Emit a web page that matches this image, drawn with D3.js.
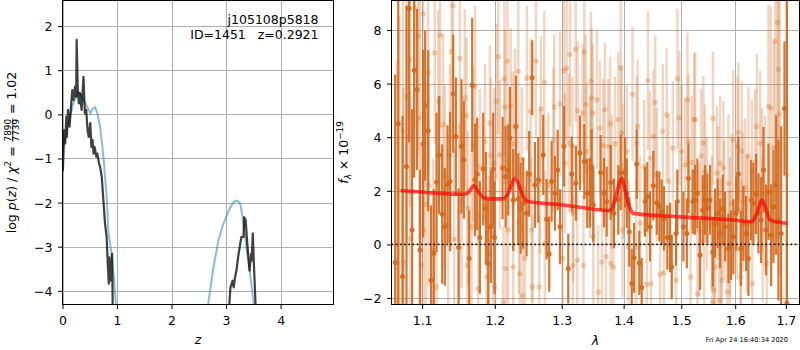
<!DOCTYPE html>
<html lang="en">
<head>
  <meta charset="UTF-8">
  <title>p(z) and spectrum</title>
  <script src="https://d3js.org/d3.v7.min.js"></script>
  <style>
    body { margin: 0; background: #fff; }
    svg text { font-family: "DejaVu Sans", sans-serif; fill: #000; }
    .tick line { stroke: #000; }
    .domain { display: none; }
  </style>
</head>
<body>
  <div id="container"></div>

  <script>
    // ---- left panel: log p(z) ----
    const zPriorA = [0, 0.08, 0.14, 0.2, 0.26, 0.29, 0.33, 0.385, 0.44, 0.48, 0.51, 0.55, 0.6, 0.64, 0.69, 0.75, 0.81, 0.84, 0.89, 0.94, 0.98, 1.0];
    const logpPriorA = [-0.81, -0.36, -0.05, 0.25, 0.44, 0.51, 0.45, 0.33, 0.2, 0.1, 0.02, 0.12, 0.16, 0.02, -0.28, -0.96, -1.87, -2.63, -3.08, -3.69, -4.3, -4.7];
    const zPriorB = [2.64, 2.68, 2.77, 2.86, 2.95, 3.05, 3.12, 3.17, 3.22, 3.26, 3.32, 3.38, 3.44, 3.50, 3.54];
    const logpPriorB = [-4.6, -4.22, -3.46, -2.86, -2.48, -2.18, -2.02, -1.96, -1.97, -2.02, -2.48, -3.08, -3.61, -4.22, -4.6];

    const zFitA = [0.0, 0.007, 0.02, 0.03, 0.05, 0.07, 0.08, 0.10, 0.13, 0.155, 0.18, 0.20, 0.23, 0.25, 0.26, 0.28, 0.30, 0.32, 0.35, 0.385, 0.41, 0.435, 0.46, 0.48, 0.51, 0.53, 0.55, 0.57, 0.59, 0.62, 0.64, 0.67, 0.69, 0.72, 0.75, 0.78, 0.81, 0.83, 0.85, 0.86, 0.89, 0.91, 0.92, 0.93];
    const logpFitA = [-0.5, -1.27, -0.81, -0.36, -0.66, -0.05, -0.51, 0.10, -0.28, 0.17, 0.55, 0.33, 0.63, 0.40, 1.69, 0.55, 0.25, 0.48, 0.10, 0.85, 0.02, 0.1, -0.36, -0.51, -0.2, -0.74, -0.58, -0.89, -0.74, -0.96, -0.89, -1.11, -1.19, -1.42, -1.95, -2.48, -2.78, -3.39, -3.84, -3.24, -3.77, -3.16, -4.3, -4.8];
    const zFitB = [3.05, 3.06, 3.08, 3.12, 3.14, 3.16, 3.19, 3.22, 3.25, 3.28, 3.30, 3.32, 3.33, 3.36, 3.38, 3.41, 3.43, 3.46, 3.47, 3.49, 3.51, 3.54, 3.55];
    const logpFitB = [-4.6, -4.3, -3.92, -3.77, -3.92, -3.73, -3.54, -3.24, -3.01, -2.78, -2.78, -2.78, -2.33, -2.4, -2.78, -3.24, -3.54, -3.16, -3.31, -2.7, -3.39, -4.3, -4.6];

    const zTicks = [0, 1, 2, 3, 4];
    const logpTicks = [-4, -3, -2, -1, 0, 1, 2];

    // ---- right panel: spectrum (flux x 1e-19) ----
    const lamG1 = [1.0651, 1.0690, 1.0745, 1.0796, 1.0830, 1.0869, 1.0895, 1.0934, 1.0970, 1.1013, 1.1040, 1.1080, 1.1119, 1.1155, 1.1191, 1.1226, 1.1267, 1.1303, 1.1339, 1.1375, 1.1416, 1.1453, 1.1490, 1.1531, 1.1563, 1.1637, 1.1679, 1.1717, 1.1749, 1.1787, 1.1834, 1.1872, 1.1905, 1.1943, 1.1976, 1.1995,
      1.2112, 1.2156, 1.2194, 1.2219, 1.2267, 1.2307, 1.2341, 1.2376, 1.2415, 1.2465, 1.2504, 1.2549, 1.2590, 1.2640, 1.2716, 1.2767, 1.2807, 1.2844, 1.2895, 1.2937, 1.2973, 1.3035, 1.3102, 1.3156, 1.3224, 1.3287, 1.3356, 1.3404, 1.3447, 1.3474, 1.3501,
      1.3620, 1.3675, 1.3719, 1.3785, 1.3839, 1.3911, 1.3951, 1.4023, 1.4052, 1.4095, 1.4136, 1.4175, 1.4221, 1.4265, 1.4306, 1.4363, 1.4403, 1.4449, 1.4507, 1.4566, 1.4612, 1.4653, 1.4694, 1.4752, 1.4800, 1.4830, 1.4907, 1.4930, 1.5038, 1.5100, 1.5129, 1.5208,
      1.5250, 1.5292, 1.5341, 1.5391, 1.5433, 1.5476, 1.5526, 1.5576, 1.5619, 1.5669, 1.5713, 1.5764, 1.5808, 1.5871, 1.5922, 1.5966, 1.6018, 1.6061, 1.6108, 1.6158, 1.6210, 1.6255, 1.6308, 1.6353, 1.6406, 1.6452, 1.6505, 1.6551, 1.6604, 1.6650, 1.6704, 1.6750, 1.6804, 1.6850, 1.6905, 1.6972, 1.7021];
    const fluxG1 = [-0.67, 4.5, -1.2, 2.91, 8.8, 0.54, 6.5, 5.78, -0.21, 3.76, 5.18, 4.24, -1.34, -0.34, 2.32, 3.34, 1.13, 0.66, 2.25, 2.35, 5.62, 4.03, -0.11, 3.66, 3.16, -0.52, 5.95, 2.41, 2.63, 0.26, 2.81, 1.35, -0.71, 0.66, 2.81, 0.26,
      2.85, 2.53, 2.78, 3.97, 1.66, 4.4, 1.70, 1.35, 1.54, 1.16, 2.63, 6.22, 2.22, 2.41, 3.34, 0.94, -0.36, 2.35, 1.91, 2.78, 0.66, 3.66, -0.9, 2.63, 2.28, 3.41, 3.09, 1.91, 1.93, 2.91, 1.47,
      2.68, 1.93, 1.6, 2.31, 1.16, 1.66, 2.68, 2.68, 1.91, 0.47, -1.46, -0.5, 3.0, -0.69, -1.61, 1.6, 1.78, 0.66, 2.19, 1.56, 1.43, 1.22, 0.97, 0.26, 0.26, -0.84, 0.41, 1.6, 0.66, 0.41, 2.47, 1.6,
      1.66, 1.91, -0.4, 1.28, 1.66, 1.35, 1.66, -0.28, 0.79, 1.16, 0.41, 1.31, 0.66, -0.15, -0.03, 0.29, 1.16, 2.63, -0.15, 0.79, 0.41, -0.52, 1.66, 1.54, 1.88, 1.16, 0.91, 2.78, 0.54, 1.97, 0.35, 1.41, 2.22, 0.91, 0.41, 5.07, -2.19];
    const errG1 = [7, 7, 6, 6, 5, 4.5, 4, 3, 3, 3.5, 2.8, 3, 2.8, 2.4, 2.6, 2.2, 2.6, 2.2, 2.2, 2.6, 2.2, 2.2, 2.2, 2.5, 2.2, 1.8, 2.5, 2.1, 2.1, 2.1, 2.1, 2.1, 2.4, 2.1, 2.1, 2.1,
      1.9, 1.9, 1.7, 1.9, 1.9, 1.9, 1.7, 1.7, 1.7, 1.6, 1.6, 1.4, 1.6, 1.6, 1.5, 1.5, 1.4, 1.5, 1.4, 1.5, 1.4, 1.5, 1.3, 1.4, 1.4, 1.4, 1.4, 1.3, 1.3, 1.4, 1.4,
      1.4, 1.3, 1.3, 1.4, 1.3, 1.3, 1.4, 1.3, 1.3, 1.3, 1.3, 1.3, 1.3, 1.2, 1.1, 1.3, 1.3, 1.3, 1.3, 1.2, 1.3, 1.2, 1.2, 1.2, 1.3, 1.2, 1.2, 1.2, 1.3, 1.3, 1.3, 1.2,
      1.3, 1.3, 1.3, 1.3, 1.3, 1.3, 1.3, 1.3, 1.3, 1.3, 1.3, 1.3, 1.3, 1.3, 1.3, 1.4, 1.4, 1.4, 1.4, 1.4, 1.4, 1.4, 1.5, 1.5, 1.5, 1.5, 1.6, 1.6, 1.7, 1.8, 1.9, 2.1, 2.6, 3, 4, 2.5, 12];

    const lamG2 = [1.0904, 1.1013, 1.1416, 1.0839, 1.1168, 1.1394, 1.1508, 1.1080, 1.1214, 1.1577, 1.0970, 1.1600, 1.1280, 1.1929, 1.1693, 1.1858, 1.1943, 1.1371, 1.1787, 1.1085, 1.1303, 1.1531, 1.1623, 1.0749, 1.1020, 1.1348, 1.1670, 1.1500, 1.0845, 1.1146, 1.0755, 1.0992, 1.1611, 1.1763, 1.1191, 1.1915, 1.1882, 1.0668, 1.0949,
      1.2182, 1.2138, 1.2341, 1.2605, 1.2026, 1.2146, 1.2229, 1.2292, 1.2258, 1.2391, 1.2731, 1.2681, 1.2525, 1.2884, 1.2973, 1.3129, 1.3219, 1.3356, 1.3035, 1.3077, 1.3250, 1.3330, 1.3377, 1.3474, 1.3490, 1.3113, 1.3166, 1.3393, 1.3447, 1.3051, 1.2666, 1.2792, 1.2073, 1.1987, 1.1976, 1.2194, 1.2540, 1.2741, 1.2441, 1.2267, 1.2161, 1.2366, 1.3012, 1.3176, 1.3244, 1.3343, 1.2001, 1.2406, 1.2555, 1.2655, 1.2121, 1.2351,
      1.3951, 1.4415, 1.4930, 1.3463, 1.3690, 1.3609, 1.3773, 1.3911, 1.4238, 1.4741, 1.4965, 1.5232, 1.4671, 1.4507, 1.5129, 1.3663, 1.3745, 1.3856, 1.3967, 1.4052, 1.4221, 1.4449, 1.5008, 1.5068, 1.3801, 1.3995, 1.4775, 1.4566, 1.4277, 1.3981, 1.3501, 1.3641, 1.3785, 1.3828, 1.3707, 1.4079, 1.4624, 1.4690, 1.4393, 1.4466, 1.4907, 1.3581, 1.4210,
      1.6830, 1.6784, 1.6851, 1.6650, 1.6697, 1.6874, 1.5250, 1.5402, 1.6061, 1.6126, 1.6485, 1.6045, 1.5190, 1.5433, 1.5652, 1.5713, 1.5776, 1.6255, 1.6386, 1.6322, 1.6519, 1.7020, 1.5871, 1.5935, 1.5675, 1.6143, 1.6031, 1.5466, 1.5789, 1.5559, 1.6224, 1.5903, 1.5328, 1.6534, 1.5415, 1.5732, 1.5893, 1.6104, 1.6618, 1.5619, 1.5745, 1.6110, 1.6331, 1.5600, 1.5293, 1.5571, 1.5694, 1.5846, 1.5168,
      1.0700, 1.0800, 1.1050, 1.1240, 1.1430, 1.1720, 1.2050, 1.2470, 1.2870, 1.3180, 1.3560, 1.4150, 1.4350, 1.4540, 1.4850, 1.5110, 1.5360, 1.5580, 1.5960, 1.6190, 1.6420, 1.6580, 1.6750];
    const fluxG2 = [8.84, 8.6, 8.9, 6.9, 7.15, 7.2, 6.94, 6.4, 5.34, 5.47, 4.72, 4.8, 4.47, 4.53, 3.72, 3.84, 3.32, 3.32, 2.9, 2.22, 2.53, 1.66, 1.35, 4.22, 0.54, 0.72, 0.66, 1.22, 0.22, -0.21, -0.65, -0.78, -0.78, -1.65, -1.59, -0.34, -1.21, -0.65, 7.78,
      6.84, 6.18, 6.46, 6.84, 5.34, 5.13, 5.18, 4.4, 3.75, 3.16, 6.03, 5.06, 4.97, 5.13, 5.24, 7.09, 7.28, 7.18, 6.49, 6.57, 4.99, 4.9, 5.22, 5.47, 4.9, 3.78, 3.66, 3.47, 2.85, 3.03, 2.35, 2.22, 3.34, 3.03, 0.41, 0.54, 0.54, 0.04, -0.52, -0.84, -0.9, -1.09, -0.52, -0.78, -0.59, -0.78, -1.59, -1.9, -1.59, -1.59, -2.15, 0.85,
      6.59, 6.12, 6.18, 6.09, 5.03, 4.34, 4.5, 4.66, 4.4, 4.84, 4.72, 4.66, 4.22, 4.03, 3.84, 3.69, 3.66, 3.76, 4.16, 3.47, 3.76, 3.22, 3.47, 2.97, 2.35, 2.72, 2.35, 2.6, 0.79, 0.54, 0.29, -0.65, -0.71, -0.84, -0.46, -0.09, -1.12, -1.06, -1.49, -1.46, -1.34, -1.78, -0.09,
      8.28, 7.59, 6.53, 5.15, 5.09, 4.87, 4.66, 3.78, 4.19, 3.49, 3.78, 3.66, 3.06, 2.72, 2.66, 3.03, 2.85, 3.28, 3.09, 2.72, 2.41, 2.6, 2.28, 1.54, 1.91, 1.6, 1.28, 1.51, 1.28, 0.79, 0.79, 0.66, 0.54, 0.54, 0.16, -0.03, -0.59, -0.15, -0.71, -0.84, -1.34, -1.21, -1.46, -1.71, -1.84, -2.15, -2.09, -1.78, -1.21,
      2.0, 5.5, 1.5, 7.8, 0.2, 5.9, 7.0, 6.2, 3.9, 1.2, 5.4, 5.6, 2.9, 5.3, 3.6, 5.4, 3.3, 4.7, 3.9, 2.1, 4.4, 1.9, 3.6];
    const errG2 = [4.5, 4.5, 3.4, 5.5, 3.4, 3.4, 3.4, 3.8, 3.4, 3.3, 4.5, 2.9, 3.4, 2.9, 2.9, 2.9, 2.9, 3.4, 2.9, 3.8, 3.4, 3.3, 2.9, 6.5, 4.5, 3.4, 2.9, 3.3, 5.5, 3.4, 6.5, 4.5, 2.9, 2.9, 3.4, 2.9, 2.9, 7.5, 4.5,
      2.9, 2.9, 2.9, 2.9, 2.9, 2.9, 2.9, 2.9, 2.7, 2.7, 2.7, 2.7, 2.7, 2.7, 2.7, 2.7, 2.7, 2.6, 2.7, 2.7, 2.6, 2.6, 2.6, 2.6, 2.6, 2.6, 2.6, 2.6, 2.6, 2.6, 2.7, 2.7, 2.8, 2.8, 2.8, 2.8, 2.7, 2.7, 2.7, 2.7, 2.7, 2.7, 2.6, 2.6, 2.6, 2.6, 2.8, 2.7, 2.7, 2.7, 2.8, 2.7,
      2.6, 2.6, 2.6, 2.6, 2.5, 2.5, 2.5, 2.5, 2.5, 2.5, 2.5, 2.5, 2.5, 2.5, 2.5, 2.5, 2.5, 2.5, 2.5, 2.5, 2.5, 2.5, 2.5, 2.5, 2.5, 2.5, 2.5, 2.5, 2.5, 2.5, 2.5, 2.5, 2.5, 2.5, 2.5, 2.5, 2.5, 2.5, 2.5, 2.5, 2.5, 2.5, 2.5,
      8, 6, 6, 3.8, 3.8, 6, 2.5, 2.5, 2.6, 2.6, 2.7, 2.6, 2.5, 2.5, 2.5, 2.5, 2.5, 2.6, 2.7, 2.7, 2.7, 8, 2.6, 2.6, 2.5, 2.6, 2.6, 2.5, 2.6, 2.5, 2.6, 2.6, 2.5, 2.7, 2.5, 2.5, 2.6, 2.6, 2.8, 2.5, 2.5, 2.6, 2.7, 2.5, 2.5, 2.5, 2.5, 2.6, 2.5,
      6.5, 5.5, 4.5, 3.5, 3.4, 3.0, 2.9, 2.7, 2.7, 2.6, 2.6, 2.5, 2.5, 2.5, 2.5, 2.5, 2.5, 2.5, 2.6, 2.6, 2.7, 2.9, 4];

    const lamModel = [1.0723, 1.1102, 1.1554, 1.1620, 1.1703, 1.1763, 1.1858, 1.1929, 1.2121, 1.2194, 1.2292, 1.2341, 1.2415, 1.2489, 1.3024, 1.3287, 1.3773, 1.3856, 1.3928, 1.3969, 1.4024, 1.4108, 1.4164, 1.4979, 1.5966, 1.6322, 1.6420, 1.6519, 1.6584, 1.6684, 1.7020];
    const fluxModel = [2.01, 1.93, 1.87, 1.92, 2.2, 1.97, 1.72, 1.70, 1.70, 1.91, 2.47, 2.28, 1.78, 1.60, 1.47, 1.39, 1.26, 1.66, 2.28, 2.47, 2.03, 1.35, 1.16, 1.03, 0.91, 0.85, 1.16, 1.66, 1.41, 0.91, 0.79];

    const lamTicks = [1.1, 1.2, 1.3, 1.4, 1.5, 1.6, 1.7];
    const fluxTicks = [-2, 0, 2, 4, 6, 8];

    const W = 800, H = 350;
    const fontSize = 12.5;
    const orange = "#d2691e";

    const svg = d3.select("#container").append("svg")
      .attr("width", W)
      .attr("height", H);

    const L = { left: 62.5, right: 333.5, top: 0.5, bottom: 304.5 };
    const R = { left: 391.5, right: 799.5, top: 0.5, bottom: 304.5 };

    const xL = d3.scaleLinear().domain([0, 4.97]).range([L.left, L.right]);
    const yL = d3.scaleLinear().domain([-4.31, 2.58]).range([L.bottom, L.top]);
    const xR = d3.scaleLog().domain([1.0604, 1.728]).range([R.left, R.right]);
    const yR = d3.scaleLinear().domain([-2.24, 9.1]).range([R.bottom, R.top]);

    function clip(id, box) {
      svg.append("clipPath").attr("id", id)
        .append("rect")
        .attr("x", box.left).attr("y", box.top)
        .attr("width", box.right - box.left).attr("height", box.bottom - box.top);
    }
    clip("clipL", L);
    clip("clipR", R);

    function grid(box, xs, xv, ys, yv) {
      const g = svg.append("g").attr("stroke", "#b0b0b0").attr("stroke-width", 1);
      g.selectAll(".gx").data(xv).join("line")
        .attr("x1", d => Math.round(xs(d)) + 0.5).attr("x2", d => Math.round(xs(d)) + 0.5)
        .attr("y1", box.top).attr("y2", box.bottom);
      g.selectAll(".gy").data(yv).join("line")
        .attr("y1", d => Math.round(ys(d)) + 0.5).attr("y2", d => Math.round(ys(d)) + 0.5)
        .attr("x1", box.left).attr("x2", box.right);
    }

    function axes(box, xs, xv, xfmt, ys, yv, yfmt) {
      const ax = svg.append("g")
        .attr("transform", `translate(0,${box.bottom})`)
        .call(d3.axisBottom(xs).tickValues(xv).tickFormat(xfmt).tickSizeInner(4.5).tickSizeOuter(0).tickPadding(7.5));
      const ay = svg.append("g")
        .attr("transform", `translate(${box.left},0)`)
        .call(d3.axisLeft(ys).tickValues(yv).tickFormat(yfmt).tickSizeInner(4.5).tickSizeOuter(0).tickPadding(5.5));
      [ax, ay].forEach(a => {
        a.selectAll("text").style("font-size", fontSize + "px").style("font-family", "DejaVu Sans");
        a.selectAll(".tick line").attr("stroke", "#000");
      });
      ay.selectAll("text").attr("dy", "0.36em");
      svg.append("rect")
        .attr("x", box.left).attr("y", box.top)
        .attr("width", box.right - box.left).attr("height", box.bottom - box.top)
        .attr("fill", "none").attr("stroke", "#000").attr("stroke-width", 1);
    }

    const minus = d => (d < 0 ? "\u2212" + Math.abs(d) : "" + d);

    // ---------- left panel ----------
    grid(L, xL, zTicks, yL, logpTicks);

    const lineL = d3.line().x(d => xL(d[0])).y(d => yL(d[1]));
    const pL = svg.append("g").attr("clip-path", "url(#clipL)");
    [[zPriorA, logpPriorA], [zPriorB, logpPriorB]].forEach(([zs, ps]) => {
      pL.append("path")
        .attr("d", lineL(zs.map((z, i) => [z, ps[i]])))
        .attr("fill", "none").attr("stroke", "#1f77b4").attr("stroke-opacity", 0.5).attr("stroke-width", 2);
    });
    [[zFitA, logpFitA], [zFitB, logpFitB]].forEach(([zs, ps]) => {
      pL.append("path")
        .attr("d", lineL(zs.map((z, i) => [z, ps[i]])))
        .attr("fill", "none").attr("stroke", "#000").attr("stroke-opacity", 0.75)
        .attr("stroke-width", 2.2).attr("stroke-linejoin", "round");
    });

    axes(L, xL, zTicks, d3.format("d"), yL, logpTicks, minus);

    svg.append("text").attr("x", 318.5).attr("y", 24).attr("text-anchor", "end")
      .style("font-size", fontSize + "px").text("j105108p5818");
    svg.append("text").attr("x", 318.5).attr("y", 39).attr("text-anchor", "end")
      .style("font-size", fontSize + "px").attr("xml:space", "preserve").text("ID=1451   z=0.2921");

    svg.append("text").attr("x", (L.left + L.right) / 2).attr("y", 344).attr("text-anchor", "middle")
      .style("font-size", fontSize + "px").style("font-style", "italic").text("z");

    // y label: log p(z) / chi^2 = 7890/7739 = 1.02
    (function () {
      const g = svg.append("g");
      let cx = 0;
      function put(str, opt) {
        opt = opt || {};
        const t = g.append("text").attr("x", cx).attr("y", opt.dy || 0)
          .attr("xml:space", "preserve")
          .style("font-size", (opt.size || fontSize) + "px")
          .style("font-style", opt.italic ? "italic" : "normal")
          .text(str);
        const w = t.node().getComputedTextLength();
        if (!opt.noAdvance) cx += w;
        return w;
      }
      put("log ");
      put("p", { italic: true });
      put("(");
      put("z", { italic: true });
      put(") / ");
      put("\u03c7", { italic: true });
      put("2", { size: 8.8, dy: -5 });
      put(" = ");
      const fx = cx + 1;
      cx = fx;
      const wn = put("7890", { size: 8.8, dy: -4.6, noAdvance: true });
      const wd = put("7739", { size: 8.8, dy: 3.2, noAdvance: true });
      g.append("line").attr("x1", fx - 0.5).attr("x2", fx + Math.max(wn, wd) + 0.5)
        .attr("y1", -3.2).attr("y2", -3.2).attr("stroke", "#000").attr("stroke-width", 0.8);
      cx = fx + Math.max(wn, wd) + 1;
      put(" = 1.02");
      g.attr("transform", `translate(16,${(L.top + L.bottom) / 2 + cx / 2}) rotate(-90)`);
    })();

    // ---------- right panel ----------
    grid(R, xR, lamTicks, yR, fluxTicks);

    const pR = svg.append("g").attr("clip-path", "url(#clipR)");

    // second grism, light
    const g2 = pR.append("g");
    g2.selectAll("line").data(lamG2).join("line")
      .attr("x1", d => xR(d)).attr("x2", d => xR(d))
      .attr("y1", (d, i) => yR(fluxG2[i] - errG2[i]))
      .attr("y2", (d, i) => yR(fluxG2[i] + errG2[i]))
      .attr("stroke", orange).attr("stroke-opacity", 0.27).attr("stroke-width", 2.5);
    g2.selectAll("circle").data(lamG2).join("circle")
      .attr("cx", d => xR(d)).attr("cy", (d, i) => yR(fluxG2[i]))
      .attr("r", 2.7).attr("fill", orange).attr("fill-opacity", 0.3);

    // first grism, solid
    const g1 = pR.append("g");
    g1.selectAll("line").data(lamG1).join("line")
      .attr("x1", d => xR(d)).attr("x2", d => xR(d))
      .attr("y1", (d, i) => yR(fluxG1[i] - errG1[i]))
      .attr("y2", (d, i) => yR(fluxG1[i] + errG1[i]))
      .attr("stroke", orange).attr("stroke-opacity", 0.92).attr("stroke-width", 2.2);
    g1.selectAll("circle").data(lamG1).join("circle")
      .attr("cx", d => xR(d)).attr("cy", (d, i) => yR(fluxG1[i]))
      .attr("r", 2.5).attr("fill", orange).attr("fill-opacity", 0.92);

    // zero line
    pR.append("line")
      .attr("x1", R.left).attr("x2", R.right)
      .attr("y1", yR(0)).attr("y2", yR(0))
      .attr("stroke", "#000").attr("stroke-width", 1.7).attr("stroke-dasharray", "1.7,2.5").attr("stroke-opacity", 0.85);

    // model
    const lineR = d3.line().x(d => xR(d[0])).y(d => yR(d[1])).curve(d3.curveMonotoneX);
    pR.append("path")
      .attr("d", lineR(lamModel.map((l, i) => [l, fluxModel[i]])))
      .attr("fill", "none").attr("stroke", "#ff0000").attr("stroke-opacity", 0.7)
      .attr("stroke-width", 3.6).attr("stroke-linejoin", "round");

    axes(R, xR, lamTicks, d3.format(".1f"), yR, fluxTicks, minus);

    svg.append("text").attr("x", (R.left + R.right) / 2).attr("y", 345).attr("text-anchor", "middle")
      .style("font-size", fontSize + "px").style("font-style", "italic").text("\u03bb");

    // y label: f_lambda x 10^-19
    (function () {
      const g = svg.append("g");
      const t = g.append("text").attr("xml:space", "preserve").style("font-size", fontSize + "px");
      t.append("tspan").style("font-style", "italic").text("f");
      t.append("tspan").style("font-style", "italic").style("font-size", "8.8px").attr("dy", 2.5).text("\u03bb");
      t.append("tspan").attr("dy", -2.5).text(" \u00d7 10");
      t.append("tspan").style("font-size", "8.8px").attr("dy", -5).text("\u221219");
      const w = t.node().getComputedTextLength();
      g.attr("transform", `translate(348,${(R.top + R.bottom) / 2 + w / 2}) rotate(-90)`);
    })();

    svg.append("text").attr("x", 788).attr("y", 342).attr("text-anchor", "end")
      .style("font-size", "6.6px").text("Fri Apr 24 16:40:34 2020");
  </script>
</body>
</html>
